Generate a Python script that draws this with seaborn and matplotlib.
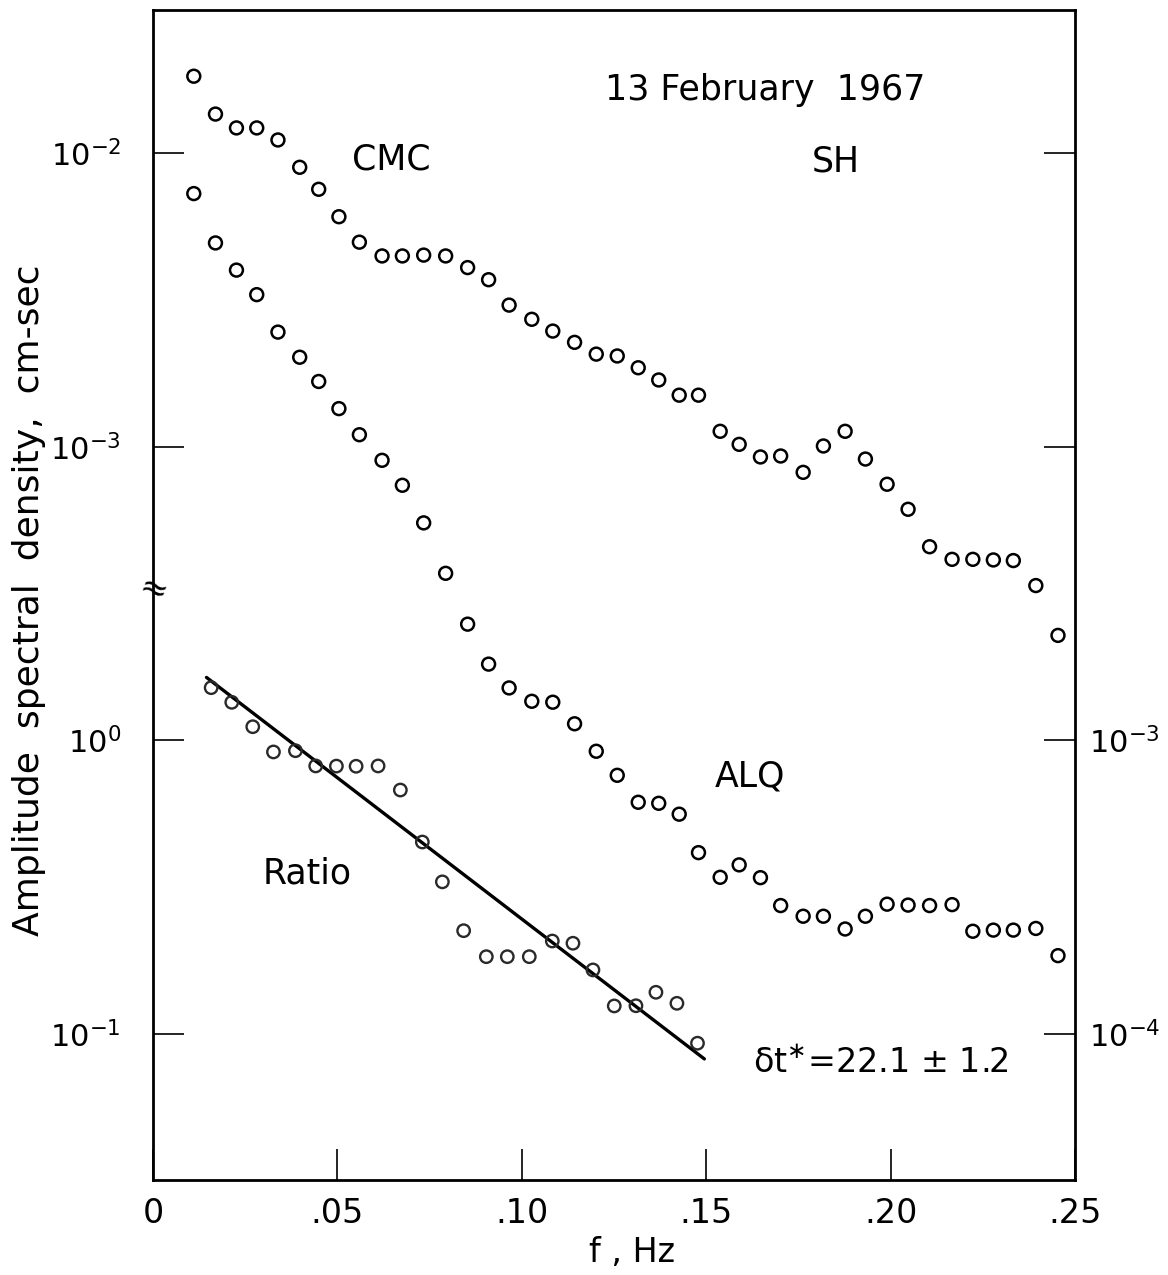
import matplotlib
matplotlib.use("Agg")
import matplotlib.pyplot as plt
from matplotlib.ticker import FixedLocator, FixedFormatter, NullLocator
import seaborn as sns

# ---- data -------------------------------------------------------------
# frequency samples (Hz) shared by the two station spectra
freq = [0.01106, 0.01694, 0.02263, 0.02813, 0.03388, 0.03978, 0.04493,
        0.05041, 0.05596, 0.06211, 0.06762, 0.07339, 0.07935, 0.08531,
        0.09100, 0.09656, 0.10271, 0.10840, 0.11431, 0.12019, 0.12588,
        0.13157, 0.13713, 0.14268, 0.14791, 0.15379, 0.15894, 0.16471,
        0.17019, 0.17629, 0.18178, 0.18767, 0.19317, 0.19905, 0.20474,
        0.21057, 0.21667, 0.22230, 0.22786, 0.23328, 0.23938, 0.24539]

# CMC amplitude spectral density, cm-sec (upper left scale)
cmc = [1.83e-2, 1.36e-2, 1.22e-2, 1.22e-2, 1.11e-2, 8.96e-3, 7.54e-3,
       6.08e-3, 4.98e-3, 4.47e-3, 4.47e-3, 4.50e-3, 4.47e-3, 4.08e-3,
       3.71e-3, 3.04e-3, 2.72e-3, 2.48e-3, 2.27e-3, 2.07e-3, 2.04e-3,
       1.86e-3, 1.69e-3, 1.50e-3, 1.50e-3, 1.13e-3, 1.02e-3, 9.24e-4,
       9.31e-4, 8.19e-4, 1.007e-3, 1.13e-3, 9.09e-4, 7.46e-4, 6.13e-4,
       4.57e-4, 4.14e-4, 4.14e-4, 4.12e-4, 4.10e-4, 3.37e-4, 2.28e-4]

# ALQ amplitude spectral density, cm-sec (right scale)
alq = [7.29e-2, 4.95e-2, 4.00e-2, 3.30e-2, 2.46e-2, 2.02e-2, 1.67e-2,
       1.35e-2, 1.10e-2, 9.00e-3, 7.40e-3, 5.51e-3, 3.71e-3, 2.49e-3,
       1.82e-3, 1.51e-3, 1.36e-3, 1.35e-3, 1.14e-3, 9.19e-4, 7.61e-4,
       6.16e-4, 6.11e-4, 5.61e-4, 4.15e-4, 3.42e-4, 3.77e-4, 3.41e-4,
       2.74e-4, 2.52e-4, 2.52e-4, 2.28e-4, 2.52e-4, 2.77e-4, 2.75e-4,
       2.74e-4, 2.76e-4, 2.24e-4, 2.26e-4, 2.26e-4, 2.29e-4, 1.85e-4]

# spectral ratio (lower left scale)
ratio_freq = [0.01577, 0.02136, 0.02705, 0.03266, 0.03862, 0.04412,
              0.04973, 0.05507, 0.06103, 0.06707, 0.07303, 0.07846,
              0.08423, 0.09038, 0.09607, 0.10203, 0.10827, 0.11387,
              0.11929, 0.12507, 0.13095, 0.13637, 0.14206, 0.14764]
ratio = [1.513, 1.349, 1.114, 0.914, 0.923, 0.819, 0.818, 0.817,
         0.819, 0.678, 0.451, 0.330, 0.225, 0.1835, 0.1835, 0.1835,
         0.2075, 0.2039, 0.1654, 0.1247, 0.1249, 0.1388, 0.1273, 0.0931]

# straight-line fit to the ratio
fit_freq = [0.0145, 0.1495]
fit_ratio = [1.64, 0.0823]

x_ticks = [0, 0.05, 0.10, 0.15, 0.20, 0.25]
x_ticklabels = ["0", ".05", ".10", ".15", ".20", ".25"]

# ---- style --------------------------------------------------------------
sns.set_style("white")
plt.rcParams["font.family"] = ["DejaVu Sans"]
plt.rcParams["mathtext.fontset"] = "dejavusans"
plt.rcParams.update({"text.color": "black", "axes.labelcolor": "black",
                     "xtick.color": "black", "ytick.color": "black"})

W, H = 1168, 1275
fig = plt.figure(figsize=(W / 100, H / 100), dpi=100)
rect = [153 / W, 1 - 1180.3 / H, (1075 - 153) / W, (1180.3 - 10) / H]

lo, hi = 10 ** -1.498, 10 ** 2.488      # ratio scale limits
TICK_LEN = 22
YFS = 22

ax = fig.add_axes(rect)        # ratio scale, owns the frame
ax_cmc = fig.add_axes(rect)    # spectral scale above the break
ax_alq = fig.add_axes(rect)    # right-hand spectral scale

for a, factor in ((ax, 1.0), (ax_cmc, 1e-4), (ax_alq, 1e-3)):
    a.set_yscale("log")
    a.set_xlim(0, 0.25)
    a.set_ylim(lo * factor, hi * factor)
    a.yaxis.set_minor_locator(NullLocator())
    a.xaxis.set_minor_locator(NullLocator())

for a in (ax_cmc, ax_alq):
    a.patch.set_visible(False)
    for s in a.spines.values():
        s.set_visible(False)
    a.tick_params(axis="x", bottom=False, labelbottom=False,
                  top=False, labeltop=False)

# frame
for s in ax.spines.values():
    s.set_visible(True)
    s.set_linewidth(2.0)
    s.set_color("black")

ax.xaxis.set_major_locator(FixedLocator(x_ticks))
ax.xaxis.set_major_formatter(FixedFormatter(x_ticklabels))
ax.tick_params(axis="x", direction="in", length=TICK_LEN, width=1.2,
               pad=12, labelsize=24, bottom=True, top=False)

ax.yaxis.set_major_locator(FixedLocator([1.0, 0.1]))
ax.yaxis.set_major_formatter(FixedFormatter(["$10^{0}$", "$10^{-1}$"]))
ax.tick_params(axis="y", direction="in", length=TICK_LEN, width=1.2,
               pad=23, labelsize=YFS, left=True, right=False)

ax_cmc.yaxis.set_major_locator(FixedLocator([1e-2, 1e-3]))
ax_cmc.yaxis.set_major_formatter(FixedFormatter(["$10^{-2}$", "$10^{-3}$"]))
ax_cmc.tick_params(axis="y", direction="in", length=TICK_LEN, width=1.2,
                   pad=23, labelsize=YFS, left=True, right=False)

ax_alq.yaxis.tick_right()
ax_alq.yaxis.set_major_locator(FixedLocator([1e-1, 1e-2, 1e-3, 1e-4]))
ax_alq.yaxis.set_major_formatter(
    FixedFormatter(["", "", "$10^{-3}$", "$10^{-4}$"]))
ax_alq.tick_params(axis="y", direction="in", length=TICK_LEN, width=1.2,
                   pad=10, labelsize=YFS, left=False, right=True)


def open_circles(a, x, y, edge="black", size=86, lw=1.8):
    sns.scatterplot(x=x, y=y, ax=a, marker="o", s=size, color=edge,
                    linewidth=lw, legend=False, zorder=3, clip_on=False)
    coll = a.collections[-1]
    coll.set_facecolor("none")
    coll.set_edgecolor(edge)
    coll.set_linewidth(lw)


open_circles(ax_cmc, freq, cmc)
open_circles(ax_alq, freq, alq)
open_circles(ax, ratio_freq, ratio, edge="#2a2a2a", size=80, lw=1.7)
sns.lineplot(x=fit_freq, y=fit_ratio, ax=ax, color="black", linewidth=2.4,
             legend=False)
for a in (ax, ax_cmc, ax_alq):
    a.set_xlabel("")
    a.set_ylabel("")

# axis break on the left spine
ax.text(0.0, 0.5044, "≈", transform=ax.transAxes, ha="center",
        va="center", fontsize=24, rotation=-20, clip_on=False)


def frac(px, py):
    return (px - 153) / 922, (1180.3 - py) / 1170.3


for txt, (px, py) in (("13 February  1967", (765, 90)),
                      ("CMC", (391, 160)),
                      ("SH", (836, 161)),
                      ("ALQ", (749.5, 776.5)),
                      ("Ratio", (307.5, 874))):
    fx, fy = frac(px, py)
    ax_alq.text(fx, fy, txt, transform=ax.transAxes, ha="center",
                va="center", fontsize=25)

fx, fy = frac(753, 1072)
ax_alq.text(fx, fy, "δt$^{\\ast}$=22.1 ± 1.2", transform=ax.transAxes,
            ha="left", va="baseline", fontsize=24)

fig.text(632 / W, 1 - 1252 / H, "f , Hz", ha="center", va="center",
         fontsize=24)
fig.text(29 / W, 1 - 600 / H, "Amplitude  spectral  density,  cm-sec",
         ha="center", va="center", rotation=90, fontsize=26)

fig.savefig("out.png", dpi=100)
